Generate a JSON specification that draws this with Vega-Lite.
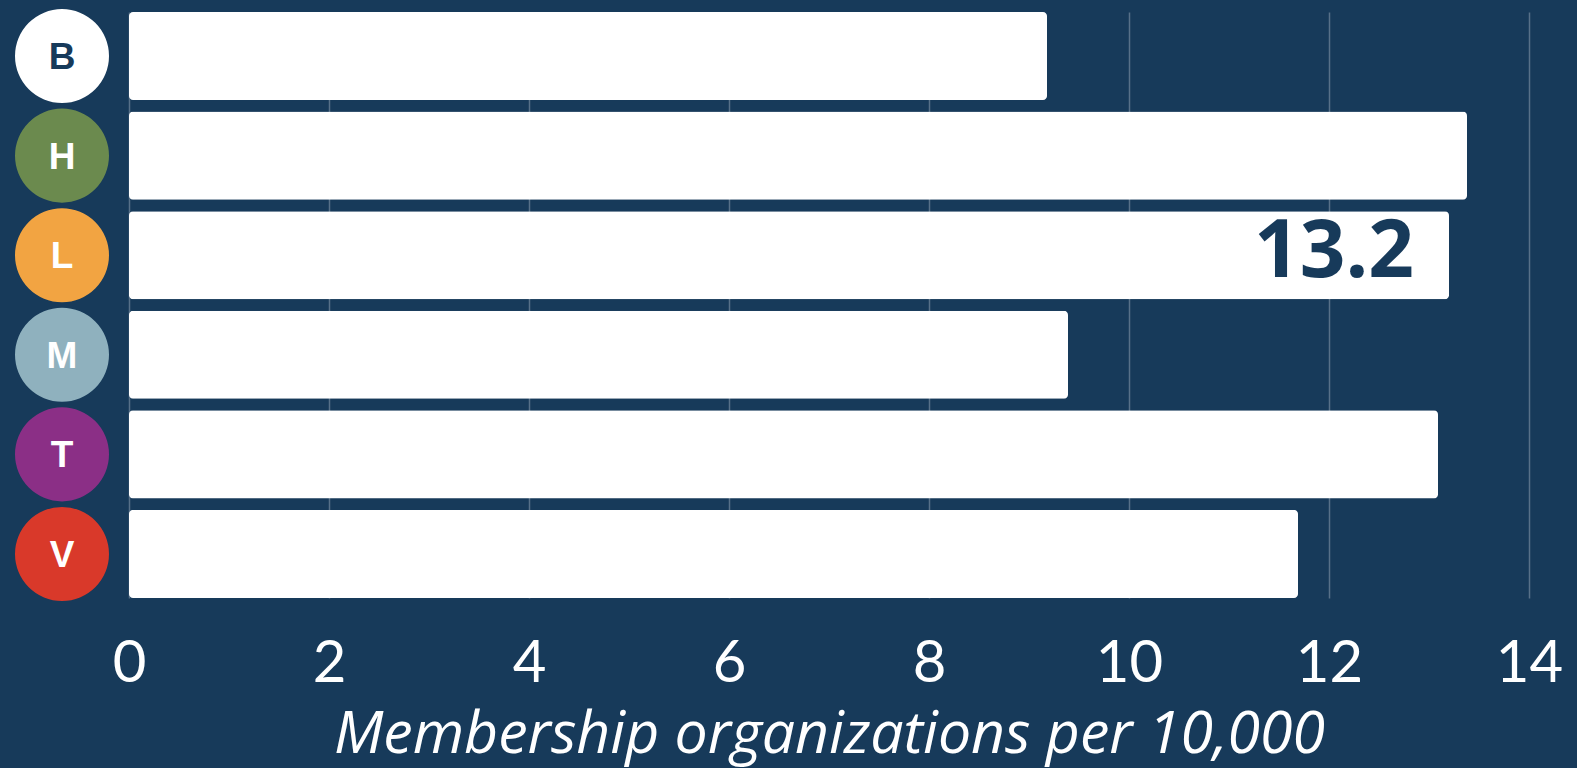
{
  "$schema": "https://vega.github.io/schema/vega-lite/v6.json",
  "width": 1400,
  "height": 586,
  "autosize": {"type": "none"},
  "padding": {"left": 129, "top": 12, "right": 48, "bottom": 170},
  "background": "#173a5a",
  "config": {"view": {"stroke": null}},
  "data": {
    "values": [
      {"group": "B", "value": 9.18, "color": "#ffffff", "textColor": "#173a5a"},
      {"group": "H", "value": 13.38, "color": "#6b8a4e", "textColor": "#ffffff"},
      {"group": "L", "value": 13.2, "color": "#f2a442", "textColor": "#ffffff"},
      {"group": "M", "value": 9.39, "color": "#8fb1be", "textColor": "#ffffff"},
      {"group": "T", "value": 13.09, "color": "#8b2f86", "textColor": "#ffffff"},
      {"group": "V", "value": 11.69, "color": "#d9392a", "textColor": "#ffffff"}
    ]
  },
  "encoding": {
    "y": {
      "field": "group",
      "type": "nominal",
      "sort": null,
      "scale": {"paddingInner": 0.115, "paddingOuter": 0},
      "axis": null
    }
  },
  "layer": [
    {
      "mark": {"type": "bar", "color": "#ffffff", "cornerRadius": 4},
      "encoding": {
        "x": {
          "field": "value",
          "type": "quantitative",
          "scale": {"domain": [0, 14], "nice": false},
          "axis": {
            "values": [0, 2, 4, 6, 8, 10, 12, 14],
            "format": "d",
            "domain": false,
            "ticks": false,
            "tickSize": 0,
            "grid": true,
            "gridColor": "#ffffff",
            "gridOpacity": 0.28,
            "gridWidth": 1.5,
            "labelFont": "Lato",
            "labelFontWeight": 400,
            "labelFontSize": 58,
            "labelColor": "#ffffff",
            "labelBaseline": "alphabetic",
            "labelPadding": 83,
            "labelFlush": false,
            "labelOverlap": false,
            "title": "Membership organizations per 10,000",
            "titleFont": "Open Sans",
            "titleFontStyle": "italic",
            "titleFontWeight": 400,
            "titleFontSize": 59,
            "titleColor": "#ffffff",
            "titleBaseline": "alphabetic",
            "titleY": 154
          }
        }
      }
    },
    {
      "transform": [{"filter": "datum.group === 'L'"}],
      "mark": {
        "type": "text",
        "align": "right",
        "baseline": "alphabetic",
        "dx": -35,
        "dy": 22,
        "font": "Open Sans",
        "fontWeight": "bold",
        "fontSize": 80,
        "color": "#173a5a"
      },
      "encoding": {
        "x": {"field": "value", "type": "quantitative"},
        "text": {"field": "value", "type": "quantitative", "format": ".1f"}
      }
    },
    {
      "mark": {"type": "point", "shape": "circle", "filled": true, "opacity": 1, "size": 8836},
      "encoding": {
        "x": {"datum": -0.67},
        "color": {"field": "color", "type": "nominal", "scale": null}
      }
    },
    {
      "mark": {
        "type": "text",
        "align": "center",
        "baseline": "middle",
        "dy": 2,
        "font": "Liberation Sans",
        "fontWeight": "bold",
        "fontSize": 37
      },
      "encoding": {
        "x": {"datum": -0.67},
        "text": {"field": "group"},
        "color": {"field": "textColor", "type": "nominal", "scale": null}
      }
    }
  ]
}
